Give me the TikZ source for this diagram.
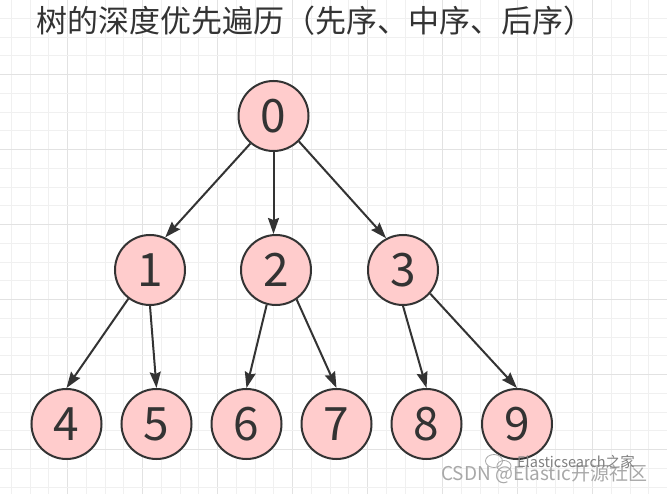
\documentclass[tikz,border=0pt]{standalone}
\usepackage{fontspec}
\setmainfont{Noto Sans CJK SC}
\usetikzlibrary{arrows.meta}
\definecolor{grminor}{HTML}{F0F0F0}
\definecolor{grmajor}{HTML}{E2E2E2}
\definecolor{nodefill}{HTML}{FFCCCC}
\definecolor{ink}{HTML}{333333}
\definecolor{wmgray}{HTML}{A8A8A8}
\begin{document}
\begin{tikzpicture}[x=1pt,y=-1pt,
  treenode/.style={circle,draw=ink,fill=nodefill,line width=2pt,minimum size=70pt,inner sep=0pt,
    font=\fontsize{46}{46}\selectfont,text=ink},
  edge/.style={draw=ink,line width=2pt,-{Stealth[length=16pt,width=11pt,inset=2pt]}},
  minorline/.style={draw=grminor,line width=1pt},
  majorline/.style={draw=grmajor,line width=1pt}]
\useasboundingbox (0,0) rectangle (667,494);
\fill[white] (0,0) rectangle (667,494);
\begin{scope}
\clip (0,0) rectangle (667,494);
\foreach \k in {0,...,35} {
  \pgfmathsetmacro{\xx}{11.45+18.75*\k}
  \pgfmathtruncatemacro{\mm}{mod(\k,4)}
  \ifnum\mm=3 \draw[majorline] (\xx,0) -- (\xx,494); \else \draw[minorline] (\xx,0) -- (\xx,494); \fi
}
\foreach \k in {0,...,27} {
  \pgfmathsetmacro{\yy}{-0.3+18.75*\k}
  \pgfmathtruncatemacro{\mm}{mod(\k,4)}
  \ifnum\mm=0 \draw[majorline] (0,\yy) -- (667,\yy); \else \draw[minorline] (0,\yy) -- (667,\yy); \fi
}
\end{scope}
\node[anchor=west,inner sep=0pt,font=\fontsize{31}{31}\selectfont,text=ink] (title) at (36,21) {树的深度优先遍历（先序、中序、后序）};
\node[treenode] (n0) at (273.5,116) {0};
\node[treenode] (n1) at (150,270) {1};
\node[treenode] (n2) at (276,270) {2};
\node[treenode] (n3) at (403,270) {3};
\node[treenode] (n4) at (66.5,424) {4};
\node[treenode] (n5) at (156.5,424) {5};
\node[treenode] (n6) at (246.5,424) {6};
\node[treenode] (n7) at (336.5,424) {7};
\node[treenode] (n8) at (426.5,424) {8};
\node[treenode] (n9) at (517,424) {9};
\draw[edge] (n0.230) -- (n1.65);
\draw[edge] (n0.south) -- (n0.south |- n2.north);
\draw[edge] (n0.-45) -- (n3.118);
\draw[edge] (n1.233) -- (n4.north);
\draw[edge] (n1.south) -- (n5.north);
\draw[edge] (n2.-105) -- (n6.north);
\draw[edge] (n2.-55) -- (n7.north);
\draw[edge] (n3.south) -- (n8.north);
\draw[edge] (n3.-41) -- (n9.north);
% watermark
\draw[wmgray,line width=0.8pt] (494,461) ellipse [x radius=8.5pt,y radius=6.5pt];
\draw[wmgray,line width=0.8pt] (504,466) ellipse [x radius=7pt,y radius=5.5pt];
\node[anchor=west,inner sep=0pt,font=\fontsize{19}{19}\selectfont,text=wmgray] (wm1) at (441,474) {CSDN @Elastic开源社区};
\node[anchor=west,inner sep=0pt,font=\fontsize{14.5}{14.5}\selectfont,text=gray] (wm2) at (517,462) {Elasticsearch之家};
\end{tikzpicture}
\end{document}
